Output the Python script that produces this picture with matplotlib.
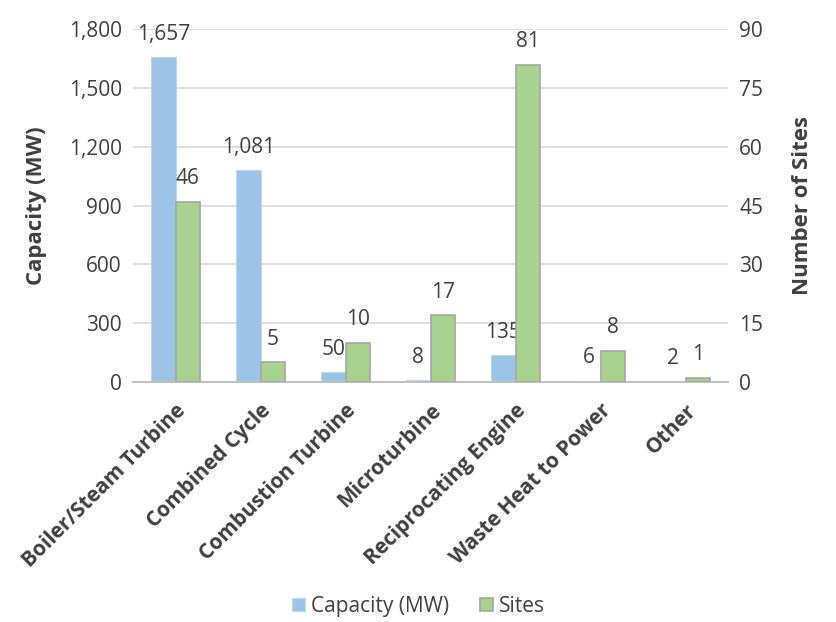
import matplotlib
matplotlib.use("Agg")
import matplotlib.pyplot as plt
import numpy as np

categories = ["Boiler/Steam Turbine", "Combined Cycle", "Combustion Turbine",
              "Microturbine", "Reciprocating Engine", "Waste Heat to Power", "Other"]
capacity_mw = [1657, 1081, 50, 8, 135, 6, 2]
sites = [46, 5, 10, 17, 81, 8, 1]
left_ticks = [0, 300, 600, 900, 1200, 1500, 1800]
right_ticks = [0, 15, 30, 45, 60, 75, 90]

plt.rcParams['font.family'] = ['Open Sans', 'DejaVu Sans']
txt = '#404040'
blue = '#9DC3E6'
green = '#A9D18E'
FS = 15

fig = plt.figure(figsize=(8.37, 6.22), dpi=100)
ax = fig.add_axes([0.159, 0.386, 0.711, 0.567])
ax2 = ax.twinx()

x = np.arange(len(categories))
w = 0.29
b1 = ax.bar(x - w/2, capacity_mw, w, color=blue, edgecolor='#BDD7EE', linewidth=0.8, label='Capacity (MW)', zorder=3)
b2 = ax2.bar(x + w/2, sites, w, color=green, edgecolor='#A6A6A6', linewidth=1.2, label='Sites', zorder=3)

ax.set_ylim(0, 1800)
ax2.set_ylim(0, 90)
ax.set_xlim(-0.5, len(categories) - 0.5)
ax.set_yticks(left_ticks)
ax.set_yticklabels([f"{v:,}" for v in left_ticks])
ax2.set_yticks(right_ticks)
ax.yaxis.grid(True, color='#D9D9D9', linewidth=1.2, zorder=0)
ax.set_axisbelow(True)

for a in (ax, ax2):
    for s in ('top', 'left', 'right'):
        a.spines[s].set_visible(False)
    a.spines['bottom'].set_color('#BFBFBF')
    a.spines['bottom'].set_linewidth(1.2)
    a.tick_params(axis='y', length=0, labelsize=FS, labelcolor=txt, pad=8)
ax.tick_params(axis='x', length=0, pad=13)

ax.set_xticks(x)
ax.set_xticklabels(categories, rotation=45, ha='right', rotation_mode='anchor',
                   fontsize=FS, fontweight='bold', color=txt)

ax.set_ylabel('Capacity (MW)', fontsize=16, fontweight='bold', color=txt, labelpad=16)
ax2.set_ylabel('Number of Sites', fontsize=16, fontweight='bold', color=txt, labelpad=21)

for rect, v in zip(b1, capacity_mw):
    ax.annotate(f"{v:,}", (rect.get_x() + rect.get_width()/2, rect.get_height()),
                xytext=(0, 9), textcoords='offset points', ha='center', va='bottom',
                fontsize=FS, color=txt)
for rect, v in zip(b2, sites):
    ax2.annotate(f"{v:,}", (rect.get_x() + rect.get_width()/2, rect.get_height()),
                 xytext=(0, 9), textcoords='offset points', ha='center', va='bottom',
                 fontsize=FS, color=txt)

h1, l1 = ax.get_legend_handles_labels()
h2, l2 = ax2.get_legend_handles_labels()
fig.legend(h1 + h2, l1 + l2, loc='center', bbox_to_anchor=(0.5, 0.025), ncol=2,
           frameon=False, fontsize=FS, labelcolor=txt, handlelength=0.6,
           handleheight=0.6, handletextpad=0.3, columnspacing=1.5)

fig.savefig('out.png', dpi=100)
